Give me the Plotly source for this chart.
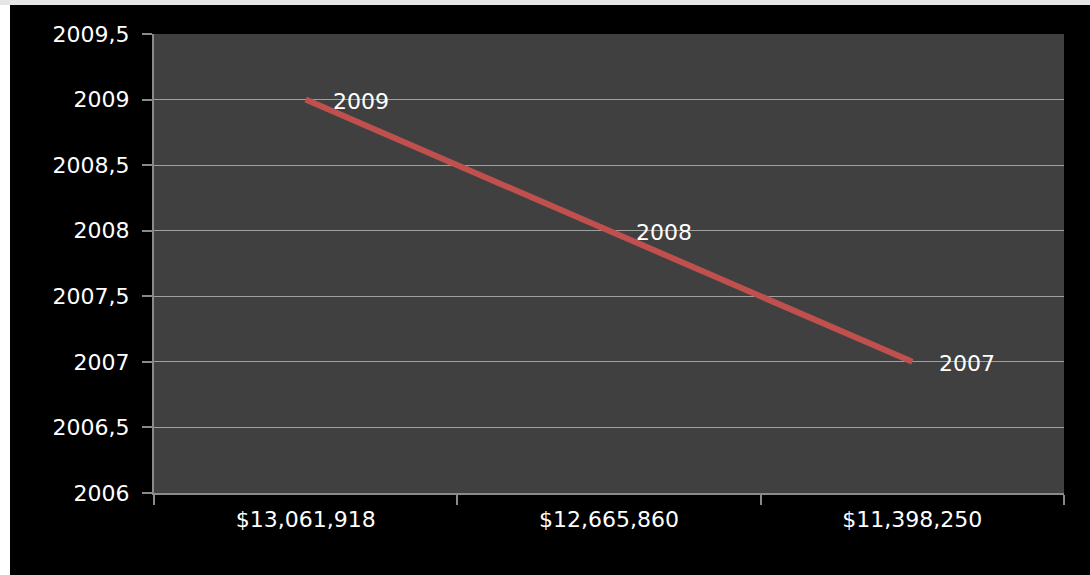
import plotly.graph_objects as go

categories = ["$13,061,918", "$12,665,860", "$11,398,250"]
years = [2009, 2008, 2007]
labels = ["2009", "2008", "2007"]

W, H = 1090, 575
L, R, T, B = 154, 26, 34, 82
pw, ph = W - L - R, H - T - B

def px_x(p):
    return (p - L) / pw

def px_y(p):
    return (H - B - p) / ph

fig = go.Figure()
fig.add_trace(go.Scatter(
    x=categories, y=years, mode="lines",
    line=dict(color="#C0504D", width=6),
    hoverinfo="skip", showlegend=False,
))

for c, v, t in zip(categories, years, labels):
    fig.add_annotation(x=c, y=v, text=t, showarrow=False, xanchor="left",
                       yanchor="middle", xshift=25, yshift=-2,
                       font=dict(family="DejaVu Sans", size=22, color="white"))

shapes = [
    dict(type="rect", xref="paper", yref="paper", x0=px_x(0), x1=px_x(10),
         y0=px_y(H), y1=px_y(0), fillcolor="white", line_width=0, layer="below"),
    dict(type="rect", xref="paper", yref="paper", x0=px_x(0), x1=px_x(W),
         y0=px_y(5), y1=px_y(0), fillcolor="#e6e6e6", line_width=0, layer="below"),
]

fig.update_layout(
    width=W, height=H,
    margin=dict(l=L, r=R, t=T, b=B, pad=0),
    paper_bgcolor="black", plot_bgcolor="#404040",
    separators=",.",
    font=dict(family="DejaVu Sans", size=22, color="white"),
    shapes=shapes,
    xaxis=dict(type="category", range=[-0.5, 2.5], showgrid=False,
               showline=True, linecolor="#8a8a8a", linewidth=2,
               ticks="outside", tickson="boundaries", ticklen=10,
               tickcolor="#8a8a8a", tickwidth=2,
               tickfont=dict(family="DejaVu Sans", size=22, color="white"),
               ticklabelstandoff=6,
               zeroline=False, fixedrange=True),
    yaxis=dict(range=[2006, 2009.5], dtick=0.5, tick0=2006, tickformat=".1~f",
               showgrid=True, gridcolor="#a0a0a0", gridwidth=1,
               showline=True, linecolor="#8a8a8a", linewidth=2,
               ticks="outside", ticklen=10, tickcolor="#8a8a8a", tickwidth=2,
               tickfont=dict(family="DejaVu Sans", size=22, color="white"),
               ticklabelstandoff=8,
               zeroline=False, fixedrange=True),
)

fig.write_html("out.html", config={"displayModeBar": False},
               post_script="document.body.style.margin='0';document.body.style.overflow='hidden';")
